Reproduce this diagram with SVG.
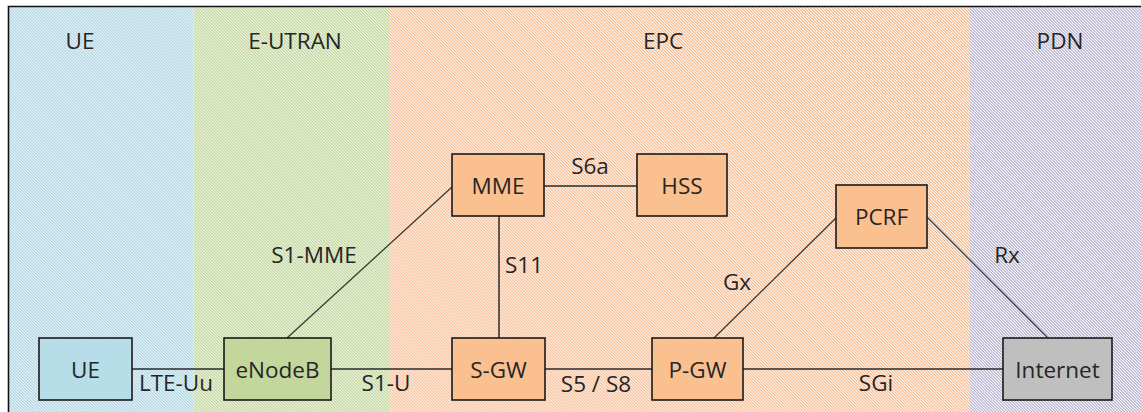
<svg xmlns="http://www.w3.org/2000/svg" width="1141" height="412" viewBox="0 0 1141 412">
<style>
.t{font-family:"Open Sans","Liberation Sans",sans-serif;font-size:22.5px;fill:#262626;text-anchor:middle}
.n{stroke:#1a1a1a;stroke-width:1.6}
.c{stroke:#2a2a2a;stroke-width:1.5;fill:none}
.d{stroke:#3a3a3a;stroke-width:1.3;fill:none}
</style>
<defs>
<pattern id="pUE" patternUnits="userSpaceOnUse" width="10" height="2.12" patternTransform="rotate(45)"><rect width="10" height="2.12" fill="#ffffff"/><rect width="10" height="1.2" fill="#a3cfe0"/></pattern>
<pattern id="pEU" patternUnits="userSpaceOnUse" width="10" height="2.12" patternTransform="rotate(45)"><rect width="10" height="2.12" fill="#ffffff"/><rect width="10" height="1.2" fill="#b8d08e"/></pattern>
<pattern id="pEPC" patternUnits="userSpaceOnUse" width="10" height="2.12" patternTransform="rotate(45)"><rect width="10" height="2.12" fill="#ffffff"/><rect width="10" height="1.2" fill="#f7b98e"/></pattern>
<pattern id="pPDN" patternUnits="userSpaceOnUse" width="10" height="2.12" patternTransform="rotate(45)"><rect width="10" height="2.12" fill="#ffffff"/><rect width="10" height="1.2" fill="#b8b3d1"/></pattern>
</defs>
<g id="regions">
<rect x="9" y="7" width="184.5" height="405" fill="url(#pUE)"/>
<rect x="193.5" y="7" width="195.5" height="405" fill="url(#pEU)"/>
<rect x="389" y="7" width="581" height="405" fill="url(#pEPC)"/>
<rect x="970" y="7" width="171" height="405" fill="url(#pPDN)"/>
<path d="M8.5 412 V6.5 H1141" fill="none" stroke="#111" stroke-width="1.6"/>
<text class="t" x="80" y="49">UE</text>
<text class="t" x="295" y="49">E-UTRAN</text>
<text class="t" x="663" y="49">EPC</text>
<text class="t" x="1060" y="49">PDN</text>
</g>
<g id="connectors">
<line class="c" x1="132" y1="369" x2="224" y2="369"/>
<line class="c" x1="331" y1="369" x2="452" y2="369"/>
<line class="c" x1="545" y1="369" x2="652" y2="369"/>
<line class="c" x1="743" y1="369" x2="1003" y2="369"/>
<line class="c" x1="544" y1="186" x2="637" y2="186"/>
<line class="c" x1="499" y1="216" x2="499" y2="338"/>
<line class="d" x1="287" y1="338" x2="452" y2="187"/>
<line class="d" x1="714" y1="338" x2="836" y2="218"/>
<line class="d" x1="927" y1="217" x2="1048" y2="338"/>
<text class="t" x="176" y="391">LTE-Uu</text>
<text class="t" x="386" y="391">S1-U</text>
<text class="t" x="596" y="392">S5 / S8</text>
<text class="t" x="876" y="391">SGi</text>
<text class="t" x="590" y="174">S6a</text>
<text class="t" x="524" y="273">S11</text>
<text class="t" x="314" y="263">S1-MME</text>
<text class="t" x="737" y="290">Gx</text>
<text class="t" x="1007" y="263">Rx</text>
</g>
<g id="node-ue"><rect class="n" x="39" y="338" width="93" height="62" fill="#b7dde8"/><text class="t" x="85.5" y="377.5">UE</text></g>
<g id="node-enodeb"><rect class="n" x="224" y="338" width="107" height="62" fill="#c3d69b"/><text class="t" x="277.5" y="377.5">eNodeB</text></g>
<g id="node-sgw"><rect class="n" x="452" y="338" width="93" height="62" fill="#fac090"/><text class="t" x="498.5" y="377.5">S-GW</text></g>
<g id="node-pgw"><rect class="n" x="652" y="338" width="91" height="62" fill="#fac090"/><text class="t" x="697.5" y="377.5">P-GW</text></g>
<g id="node-internet"><rect class="n" x="1003" y="338" width="109" height="62" fill="#bfbfbf"/><text class="t" x="1057.5" y="377.5">Internet</text></g>
<g id="node-mme"><rect class="n" x="452" y="154" width="92" height="62" fill="#fac090"/><text class="t" x="498" y="193.5">MME</text></g>
<g id="node-hss"><rect class="n" x="637" y="154" width="90" height="62" fill="#fac090"/><text class="t" x="682" y="193.5">HSS</text></g>
<g id="node-pcrf"><rect class="n" x="836" y="185" width="91" height="63" fill="#fac090"/><text class="t" x="881.5" y="225">PCRF</text></g>
</svg>
